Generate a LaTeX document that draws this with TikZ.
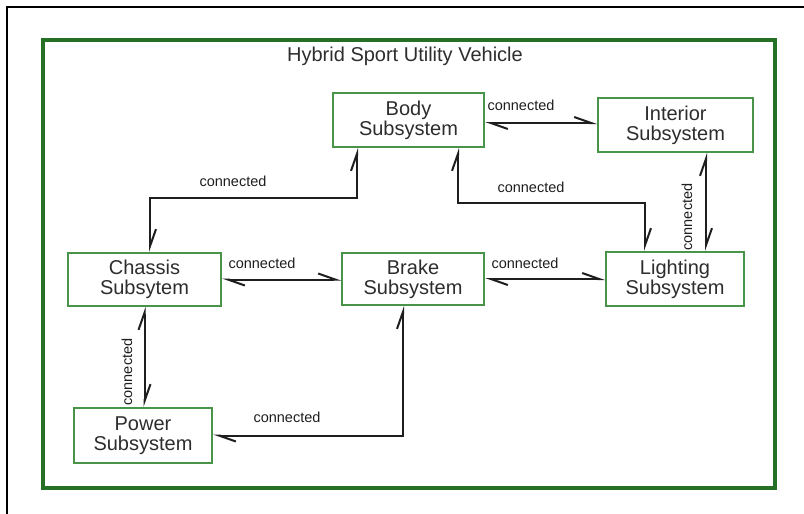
\documentclass[tikz,border=0pt]{standalone}
\usepackage{fontspec}
\setmainfont{Liberation Sans}
\usetikzlibrary{arrows.meta,calc}

\definecolor{framegreen}{RGB}{38,112,38}
\definecolor{boxgreen}{RGB}{72,148,72}
\definecolor{inkgray}{RGB}{45,45,45}
\definecolor{linkgray}{RGB}{30,30,30}

\begin{document}
\begin{tikzpicture}[x=1pt,y=-1pt,
  sub/.style={draw=boxgreen, line width=2pt, fill=white, inner sep=0pt,
    align=center, text=inkgray, font=\fontsize{20}{20}\selectfont},
  lbl/.style={inner sep=1pt, text=linkgray, font=\fontsize{14.5}{15}\selectfont},
  barb/.style={Straight Barb[harpoon,length=17pt,width=12pt,line width=1.6pt]},
  link/.style={draw=linkgray, line width=2pt, {Straight Barb[harpoon,length=17pt,width=12pt]}-{Straight Barb[harpoon,length=17pt,width=12pt]}}
]
\useasboundingbox (0,0) rectangle (804,514);

% page edge lines
\draw[line width=2pt, black] (7,514) -- (7,7) -- (804,7);

% system frame
\draw[framegreen, line width=4pt] (43,40) rectangle (775,488);
\node[text=inkgray, font=\fontsize{20}{20}\selectfont] (title) at (405,56) {Hybrid Sport Utility Vehicle};

% subsystems
\node[sub, minimum width=151pt, minimum height=54pt] (body)     at (408.5,120)   {Body\\Subsystem};
\node[sub, minimum width=155pt, minimum height=54pt] (interior) at (675.5,125)   {Interior\\Subsystem};
\node[sub, minimum width=153pt, minimum height=53pt] (chassis)  at (144.5,279.5) {Chassis\\Subsytem};
\node[sub, minimum width=142pt, minimum height=52pt] (brake)    at (413,279)     {Brake\\Subsystem};
\node[sub, minimum width=138pt, minimum height=54pt] (lighting) at (675,279)     {Lighting\\Subsystem};
\node[sub, minimum width=138pt, minimum height=55pt] (power)    at (143,435.5)   {Power\\Subsystem};

% bend points
\coordinate (cbmid) at (250,198);
\coordinate (blmid) at (550,203);
\coordinate (pbmid) at (300,436);

% connections
\draw[link] ([yshift=-3pt]body.east) -- ([yshift=-3pt]body.east -| interior.west);
\draw[link] ([xshift=5.5pt]chassis.north) |- (cbmid) -| ([xshift=-51.5pt]body.south);
\draw[link] ([xshift=49.5pt]body.south) |- (blmid) -| ([xshift=-30pt]lighting.north);
\draw[link] ([xshift=30.5pt]interior.south) -- ([xshift=30.5pt]interior.south |- lighting.north);
\draw[link] (chassis.east) -- (chassis.east -| brake.west);
\draw[link] (brake.east) -- (brake.east -| lighting.west);
\draw[link] (chassis.south) -- (chassis.south |- power.north);
\draw[link] (power.east) -| ([xshift=-10pt]brake.south);

% labels
\node[lbl] (lbi) at (521,105) {connected};
\node[lbl] (lcb) at (233,181) {connected};
\node[lbl] (lbl2) at (531,187) {connected};
\node[lbl, rotate=90] (lil) at (687,217) {connected};
\node[lbl] (lcbr) at (262,263) {connected};
\node[lbl] (lbrl) at (525,263) {connected};
\node[lbl, rotate=90] (lcp) at (127,372) {connected};
\node[lbl] (lpb) at (287,417) {connected};
\end{tikzpicture}
\end{document}
